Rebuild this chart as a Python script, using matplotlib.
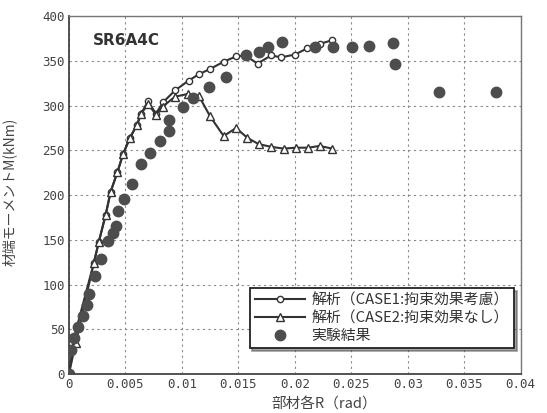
import numpy as np
import matplotlib.pyplot as plt
from matplotlib.lines import Line2D

plt.rcParams['font.family'] = ['Noto Sans CJK JP', 'DejaVu Sans']

# CASE1 analysis (open circles)
r_case1 = [0, 0.00044, 0.0022, 0.00265, 0.00325, 0.0037, 0.0043, 0.0048, 0.0054, 0.006,
           0.0064, 0.0070, 0.0077, 0.00835, 0.0094, 0.0106, 0.0115, 0.0125, 0.0137, 0.0148,
           0.0156, 0.0167, 0.0179, 0.0188, 0.0200, 0.0211, 0.0222, 0.0233]
m_case1 = [0, 40, 124, 148, 178, 204, 226, 246, 264, 278,
           291, 305, 291, 304, 317, 328, 335, 341, 349, 355,
           356, 347, 356, 354, 357, 364, 369, 373]

# CASE2 analysis (open triangles)
r_case2 = [0, 0.0006, 0.0022, 0.00265, 0.00325, 0.0037, 0.0043, 0.0048, 0.0054, 0.006,
           0.0064, 0.0070, 0.0077, 0.0083, 0.0094, 0.0105, 0.0115, 0.0125, 0.0137, 0.0148,
           0.0158, 0.0168, 0.0179, 0.0190, 0.0201, 0.0212, 0.0222, 0.0233]
m_case2 = [0, 35, 124, 148, 178, 204, 226, 246, 264, 278,
           291, 302, 290, 299, 310, 313, 311, 288, 266, 275,
           264, 257, 254, 252, 253, 253, 255, 252]

# experiment (filled circles)
r_exp = [0, 0.00015, 0.00047, 0.00082, 0.00127, 0.00157, 0.0018, 0.0023, 0.00283, 0.00348,
         0.0039, 0.00416, 0.00437, 0.00487, 0.0056, 0.00634, 0.00717, 0.00805, 0.00885, 0.00885,
         0.01006, 0.01095, 0.01242, 0.01387, 0.01565, 0.01681, 0.01764, 0.0189, 0.0218, 0.0234,
         0.0251, 0.0266, 0.0287, 0.0289, 0.0328, 0.0378]
m_exp = [0, 27, 40, 53, 65, 77, 90, 110, 129, 149,
         158, 166, 182, 196, 212, 235, 247, 260, 272, 284,
         298, 308, 321, 332, 356, 360, 365, 371, 365, 366,
         366, 367, 370, 347, 315, 315]

xticks = [0, 0.005, 0.01, 0.015, 0.02, 0.025, 0.03, 0.035, 0.04]
xtick_labels = ['0', '0.005', '0.01', '0.015', '0.02', '0.025', '0.03', '0.035', '0.04']
yticks = [0, 50, 100, 150, 200, 250, 300, 350, 400]

line_c = '#333333'
dot_c = '#4d4d4d'

fig = plt.figure(figsize=(5.47, 4.13), dpi=100)
ax = fig.add_axes([0.126, 0.094, 0.826, 0.867])

ax.plot(r_case1, m_case1, color=line_c, lw=1.5, marker='o', ms=4.5,
        mfc='white', mec=line_c, mew=1.0, zorder=3)
ax.plot(r_case2, m_case2, color=line_c, lw=1.5, marker='^', ms=5.5,
        mfc='white', mec=line_c, mew=1.0, zorder=4)
ax.plot(r_exp, m_exp, ls='none', marker='o', ms=7.5, color=dot_c, zorder=5)

ax.set_xlim(0, 0.04)
ax.set_ylim(0, 400)
ax.set_xticks(xticks)
ax.set_xticklabels(xtick_labels)
ax.set_yticks(yticks)
ax.tick_params(length=0, labelsize=9, colors='#444444', pad=3)
for t in ax.get_xticklabels() + ax.get_yticklabels():
    t.set_family('DejaVu Sans Mono')
ax.grid(True, ls=(0, (2, 3)), color='#888888', lw=0.8)
for s in ['top', 'right']:
    ax.spines[s].set_color('#777777')
    ax.spines[s].set_linewidth(1.0)
for s in ['left', 'bottom']:
    ax.spines[s].set_color('#444444')
    ax.spines[s].set_linewidth(1.3)

ax.text(0.053, 0.933, 'SR6A4C', transform=ax.transAxes, fontsize=11,
        fontweight='bold', color='#333333', va='center', family='DejaVu Sans')

ax.set_xlabel('部材各R（rad）', fontsize=10.5, color='#444444')
ax.xaxis.set_label_coords(0.566, -0.065)
ax.set_ylabel('材端モーメントM(kNm)', fontsize=10, color='#444444')
ax.yaxis.set_label_coords(-0.115, 0.51)

handles = [
    Line2D([], [], color=line_c, lw=1.5, marker='o', ms=4.5, mfc='white', mec=line_c),
    Line2D([], [], color=line_c, lw=1.5, marker='^', ms=5.5, mfc='white', mec=line_c),
    Line2D([], [], ls='none', marker='o', ms=7.5, color=dot_c),
]
labels = ['解析（CASE1:拘束効果考慮）', '解析（CASE2:拘束効果なし）', '実験結果']
leg = ax.legend(handles, labels, loc='lower right', bbox_to_anchor=(0.985, 0.073),
                fontsize=10.7, frameon=True, fancybox=False, shadow=True,
                handlelength=3.4, borderpad=0.35, labelspacing=0.25,
                handletextpad=0.4, borderaxespad=0)
leg.get_frame().set_edgecolor('#222222')
leg.get_frame().set_linewidth(1.3)
for t in leg.get_texts():
    t.set_color('#333333')

fig.savefig('out.png', dpi=100)
